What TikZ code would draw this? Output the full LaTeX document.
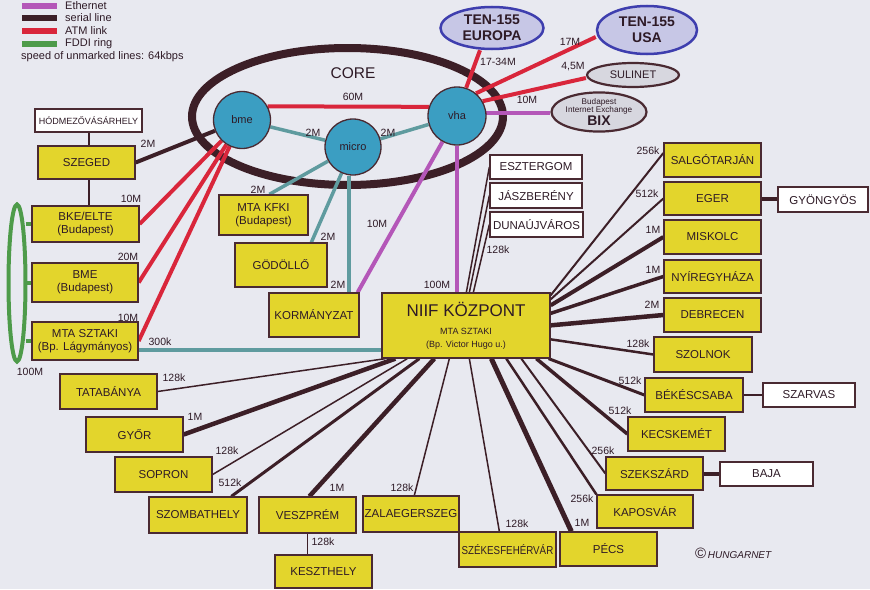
\documentclass[tikz,border=0pt]{standalone}
\usepackage{fontspec}
\setmainfont{Liberation Sans}
\usetikzlibrary{shapes.geometric,calc}
\pgfdeclarelayer{back}
\pgfdeclarelayer{lines}
\pgfsetlayers{back,lines,main}
\definecolor{bgc}{HTML}{E8E9F0}
\definecolor{yel}{HTML}{E3D52C}
\definecolor{bord}{HTML}{4A2A32}
\definecolor{serc}{HTML}{3C1F27}
\definecolor{atmc}{HTML}{D9263B}
\definecolor{ethc}{HTML}{B457B8}
\definecolor{fddic}{HTML}{4E9B4A}
\definecolor{tealc}{HTML}{5F9B9F}
\definecolor{hubc}{HTML}{3B9EC2}
\definecolor{tenf}{HTML}{C7C7E6}
\definecolor{tenb}{HTML}{3E3EAE}
\definecolor{greyf}{HTML}{D7D7DF}
\definecolor{txt}{HTML}{2E1A26}
\newcommand{\cornerbox}[7]{\node[#1,minimum width={#5-#3},minimum height={#6-#4}] (#2) at ({(#3+#5)/2},{(#4+#6)/2}) {#7};}
\newcommand{\smallf}{\fontsize{9}{10.5}\selectfont}
\newcommand{\tinyf}{\fontsize{8.2}{8.4}\selectfont}
\begin{document}
\begin{tikzpicture}[x=1pt,y=-1pt,
  ybox/.style={draw=bord,line width=1.3pt,fill=yel,inner sep=0pt,align=center,text=txt,font=\fontsize{11.5}{13}\selectfont},
  wbox/.style={ybox,fill=white},
  hub/.style={circle,draw=bord,line width=1.3pt,fill=hubc,inner sep=0pt,text=txt,font=\fontsize{11}{13}\selectfont},
  ten/.style={ellipse,draw=tenb,line width=2.5pt,fill=tenf,inner sep=0pt,align=center,text=txt,font=\bfseries\fontsize{14}{15.5}\selectfont},
  gnet/.style={ellipse,draw=bord,line width=2.2pt,fill=greyf,inner sep=0pt,align=center,text=txt},
  lab/.style={inner sep=0pt,text=txt,font=\fontsize{10.5}{12}\selectfont},
  ser/.style={draw=serc,line width=#1},
  ser/.default=1.5pt,
  atmline/.style={draw=atmc,line width=4pt},
  ethline/.style={draw=ethc,line width=4pt},
  tealline/.style={draw=tealc,line width=3.5pt},
  fddiline/.style={draw=fddic,line width=4pt},
]
\begin{pgfonlayer}{back}
\fill[bgc] (0,0) rectangle (870,589);
\draw[serc,line width=8pt] (347.5,116.5) ellipse [x radius=155.5pt, y radius=68.5pt];
\end{pgfonlayer}
\useasboundingbox (0,0) rectangle (870,589);

% legend
\coordinate (le1a) at (22,6);  \coordinate (le1b) at (57,6);
\coordinate (le2a) at (22,18); \coordinate (le2b) at (57,18);
\coordinate (le3a) at (22,31); \coordinate (le3b) at (57,31);
\coordinate (le4a) at (22,44); \coordinate (le4b) at (57,44);
\draw[ethline,line width=5.5pt] (le1a) -- (le1b);
\draw[ser=5.5pt] (le2a) -- (le2b);
\draw[atmline,line width=5.5pt] (le3a) -- (le3b);
\draw[fddiline,line width=5.5pt] (le4a) -- (le4b);
\node[lab,anchor=west,font=\fontsize{11}{13}\selectfont] (lt1) at (65,6) {Ethernet};
\node[lab,anchor=west,font=\fontsize{11}{13}\selectfont] (lt2) at (65,18) {serial line};
\node[lab,anchor=west,font=\fontsize{11}{13}\selectfont] (lt3) at (65,31) {ATM link};
\node[lab,anchor=west,font=\fontsize{11}{13}\selectfont] (lt4) at (65,44) {FDDI ring};
\node[lab,anchor=west,font=\fontsize{11}{13}\selectfont] (lt5) at (21,57) {speed of unmarked lines: 64kbps};

% hubs and nets
\node[hub,minimum size=57pt] (bme) at (242,120) {bme};
\node[hub,minimum size=56pt] (micro) at (353,147) {micro};
\node[hub,minimum size=58pt] (vha) at (457,116) {vha};
\node[lab,font=\fontsize{15.5}{17}\selectfont] (core) at (353,73) {CORE};
\node[ten,minimum width=103pt,minimum height=42pt] (europa) at (492,28) {TEN-155\\EUROPA};
\node[ten,minimum width=100pt,minimum height=48pt] (usa) at (647,30) {TEN-155\\USA};
\node[gnet,minimum width=92pt,minimum height=24pt,font=\fontsize{11}{13}\selectfont] (sulinet) at (633,75) {SULINET};
\node[gnet,minimum width=95pt,minimum height=37pt,font=\tinyf] (bix) at (599,112) {\tinyf Budapest\\\tinyf Internet Exchange\\[1pt]\fontsize{14}{14}\selectfont\bfseries BIX};

% boxes
\cornerbox{wbox}{hodm}{35}{109}{142}{132}{\fontsize{9}{10}\selectfont HÓDMEZŐVÁSÁRHELY}
\cornerbox{ybox}{szeged}{38}{146}{135}{179}{SZEGED}
\cornerbox{ybox}{bke}{32}{206}{139}{242}{BKE/ELTE\\(Budapest)}
\cornerbox{ybox}{bmeb}{32}{263}{138}{302}{BME\\(Budapest)}
\cornerbox{ybox}{sztaki}{32}{322}{138}{360}{MTA SZTAKI\\(Bp. Lágymányos)}
\node[ellipse,draw=fddic,line width=4pt,minimum width=17pt,minimum height=157pt,inner sep=0pt] (ring) at (17,283) {};
\cornerbox{ybox}{kfki}{219}{195}{308}{235}{MTA KFKI\\(Budapest)}
\cornerbox{ybox}{godollo}{235}{243}{327}{287}{GÖDÖLLŐ}
\cornerbox{ybox}{korm}{269}{293}{359}{337}{KORMÁNYZAT}
\cornerbox{ybox}{niif}{382}{293}{550}{358}{\fontsize{17}{20}\selectfont NIIF KÖZPONT\\[5pt]\smallf MTA SZTAKI\\\smallf (Bp. Victor Hugo u.)}
\cornerbox{wbox}{eszt}{490}{155}{582}{179}{ESZTERGOM}
\cornerbox{wbox}{jasz}{490}{183}{582}{208}{JÁSZBERÉNY}
\cornerbox{wbox}{duna}{490}{212}{583}{237}{DUNAÚJVÁROS}
\cornerbox{ybox}{salgo}{664}{143}{761}{177}{SALGÓTARJÁN}
\cornerbox{ybox}{eger}{664}{182}{761}{215}{EGER}
\cornerbox{wbox}{gyongy}{778}{187}{868}{212}{GYÖNGYÖS}
\cornerbox{ybox}{miskolc}{664}{220}{761}{254}{MISKOLC}
\cornerbox{ybox}{nyireg}{664}{260}{761}{293}{NYÍREGYHÁZA}
\cornerbox{ybox}{debr}{664}{298}{761}{332}{DEBRECEN}
\cornerbox{ybox}{szolnok}{654}{337}{752}{372}{SZOLNOK}
\cornerbox{ybox}{bekes}{645}{378}{743}{412}{BÉKÉSCSABA}
\cornerbox{wbox}{szarvas}{763}{383}{855}{407}{SZARVAS}
\cornerbox{ybox}{kecsk}{628}{417}{725}{451}{KECSKEMÉT}
\cornerbox{ybox}{szeksz}{606}{457}{703}{490}{SZEKSZÁRD}
\cornerbox{wbox}{baja}{720}{462}{813}{486}{BAJA}
\cornerbox{ybox}{kapos}{597}{495}{693}{528}{KAPOSVÁR}
\cornerbox{ybox}{pecs}{560}{532}{657}{566}{PÉCS}
\cornerbox{ybox}{szfv}{459}{532}{556}{567}{\scalebox{0.85}[1]{SZÉKESFEHÉRVÁR}}
\cornerbox{ybox}{zala}{363}{496}{459}{532}{ZALAEGERSZEG}
\cornerbox{ybox}{veszp}{259}{497}{356}{533}{VESZPRÉM}
\cornerbox{ybox}{keszt}{275}{555}{372}{588}{KESZTHELY}
\cornerbox{ybox}{szomb}{149}{497}{247}{533}{SZOMBATHELY}
\cornerbox{ybox}{sopron}{115}{457}{212}{492}{SOPRON}
\cornerbox{ybox}{gyor}{86}{417}{183}{452}{GYŐR}
\cornerbox{ybox}{tata}{60}{374}{157}{409}{TATABÁNYA}
\node[inner sep=0pt,text=txt,anchor=west] (copy) at (695,553) {{\fontsize{15}{15}\selectfont ©}\,{\itshape\fontsize{10}{12}\selectfont HUNGARNET}};

% connectors
\begin{pgfonlayer}{lines}
\draw[atmline] (bme.28) -- (vha.162);
\draw[tealline] (bme) -- (micro);
\draw[tealline] (micro) -- (vha);
\draw[tealline] (micro) -- ([xshift=51pt]kfki.north west);
\draw[tealline] (micro) -- ([xshift=77pt]godollo.north west);
\draw[tealline] ([xshift=-4pt]micro.south) -- ([xshift=-4pt]micro.south |- korm.north);
\draw[ethline] (vha) -- ([xshift=-2pt]korm.north east);
\draw[ethline] (vha.south) -- (vha.south |- niif.north);
\draw[ethline] (vha.6) -- (vha.6 -| bix.west);
\draw[atmline] (vha.72) -- ([xshift=-12pt]europa.south);
\draw[atmline] (vha.50) -- ([yshift=-7pt]usa.west);
\draw[atmline] (vha.30) -- ([yshift=-3pt]sulinet.west);
\draw[ser=4pt] (szeged.east) -- (bme);
\draw[atmline] (bme) -- (bke.east);
\draw[atmline] (bme) -- (bmeb.east);
\draw[atmline] (bme) -- (sztaki.east);
\draw[tealline] ([yshift=-9pt]sztaki.east) -- ([yshift=-9pt]sztaki.east -| niif.west);
\draw[ser=2pt] (hodm.south) -- (hodm.south |- szeged.north);
\draw[ser=2pt] (hodm.south |- szeged.south) -- (hodm.south |- bke.north);
\draw[fddiline] ([xshift=-2pt]ring.east |- bke.west) -- (bke.west);
\draw[fddiline] ([xshift=-2pt]ring.east |- bmeb.west) -- (bmeb.west);
\draw[fddiline] ([xshift=-2pt]ring.east |- sztaki.west) -- (sztaki.west);
\draw[ser=2pt] ([yshift=-3pt]niif.north east) -- ([yshift=7pt]salgo.west);
\draw[ser=2pt] ([yshift=-7pt]niif.north east) -- (eger.west);
\draw[ser=4pt] ([yshift=-13pt]niif.north east) -- (miskolc.west);
\draw[ser=3.5pt] ([yshift=-21pt]niif.north east) -- (nyireg.west);
\draw[ser=4.5pt] ([yshift=-33pt]niif.north east) -- (debr.west);
\draw[ser=2.5pt] ([yshift=-47pt]niif.north east) -- (szolnok.west);
\draw[ser=3pt] ([xshift=-2pt]niif.south east) -- (bekes.west);
\draw[ser=3.5pt] ([xshift=155pt]niif.south west) -- (kecsk.west);
\draw[ser=2pt] ([xshift=140pt]niif.south west) -- (szeksz.west);
\draw[ser=2.5pt] ([xshift=125pt]niif.south west) -- (kapos.north west);
\draw[ser=5pt] ([xshift=110pt]niif.south west) -- ([xshift=12pt]pecs.north west);
\draw[ser=1.5pt] ([xshift=88pt]niif.south west) -- ([xshift=41pt]szfv.north west);
\draw[ser=1.5pt] ([xshift=68pt]niif.south west) -- ([xshift=52pt]zala.north west);
\draw[ser=4.5pt] ([xshift=53pt]niif.south west) -- ([xshift=51pt]veszp.north west);
\draw[ser=3pt] ([xshift=38pt]niif.south west) -- ([xshift=83pt]szomb.north west);
\draw[ser=1.5pt] ([xshift=26pt]niif.south west) -- (sopron.east);
\draw[ser=4.5pt] ([xshift=14pt]niif.south west) -- (gyor.east);
\draw[ser=1.5pt] ([xshift=4pt]niif.south west) -- (tata.east);
\draw[ser=1.5pt] ([xshift=85pt]niif.north west) -- (eszt.west);
\draw[ser=1.5pt] ([xshift=88pt]niif.north west) -- (jasz.west);
\draw[ser=1.5pt] ([xshift=92pt]niif.north west) -- (duna.west);
\draw[ser=4pt] (eger.east) -- (eger.east -| gyongy.west);
\draw[ser=1.5pt] (bekes.east) -- (bekes.east -| szarvas.west);
\draw[ser=4pt] (szeksz.east) -- (szeksz.east -| baja.west);
\draw[ser=1.5pt] (veszp.south) -- (veszp.south |- keszt.north);
\end{pgfonlayer}

% labels
\node[lab] (l01) at (148,144) {2M};
\node[lab] (l02) at (131,199) {10M};
\node[lab] (l03) at (128,257) {20M};
\node[lab] (l04) at (128,318) {10M};
\node[lab] (l05) at (160,342) {300k};
\node[lab] (l06) at (30,372) {100M};
\node[lab] (l07) at (258,190) {2M};
\node[lab] (l08) at (328,237) {2M};
\node[lab] (l09) at (338,285) {2M};
\node[lab] (l10) at (377,224) {10M};
\node[lab] (l11) at (437,285) {100M};
\node[lab] (l12) at (498,250) {128k};
\node[lab] (l13) at (353,97) {60M};
\node[lab] (l14) at (313,133) {2M};
\node[lab] (l15) at (388,133) {2M};
\node[lab] (l16) at (498,62) {17-34M};
\node[lab] (l17) at (570,42) {17M};
\node[lab] (l18) at (573,67) {4,5M};
\node[lab] (l19) at (527,100) {10M};
\node[lab] (l20) at (648,151) {256k};
\node[lab] (l21) at (647,194) {512k};
\node[lab] (l22) at (653,230) {1M};
\node[lab] (l23) at (653,270) {1M};
\node[lab] (l24) at (652,305) {2M};
\node[lab] (l25) at (638,344) {128k};
\node[lab] (l26) at (630,381) {512k};
\node[lab] (l27) at (620,411) {512k};
\node[lab] (l28) at (603,451) {256k};
\node[lab] (l29) at (582,499) {256k};
\node[lab] (l30) at (582,523) {1M};
\node[lab] (l31) at (517,524) {128k};
\node[lab] (l32) at (402,488) {128k};
\node[lab] (l33) at (337,488) {1M};
\node[lab] (l34) at (323,542) {128k};
\node[lab] (l35) at (230,483) {512k};
\node[lab] (l36) at (227,451) {128k};
\node[lab] (l37) at (195,417) {1M};
\node[lab] (l38) at (174,378) {128k};
\end{tikzpicture}
\end{document}
